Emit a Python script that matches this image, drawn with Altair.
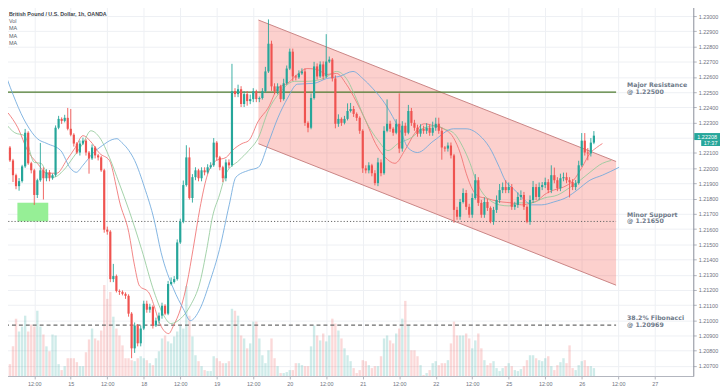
import json
import altair as alt
import pandas as pd

# ---------------- data ----------------
first_open = 1.22181
closes = [
    1.22136, 1.22051, 1.21954, 1.21882, 1.21915, 1.22012, 1.22233, 1.22032, 1.21986, 1.21824,
    1.21921, 1.21986, 1.21934, 1.21973, 1.21934, 1.21954, 1.22266, 1.22324, 1.22311, 1.22331,
    1.22259, 1.22220, 1.22162, 1.22103, 1.22162, 1.22181, 1.22103, 1.22064, 1.22136, 1.22084,
    1.22071, 1.21986, 1.21596, 1.21583, 1.21271, 1.21291, 1.21193, 1.21187, 1.21174, 1.21161,
    1.21044, 1.20816, 1.20966, 1.20849, 1.20946, 1.21109, 1.21070, 1.21089, 1.20966, 1.20998,
    1.21031, 1.21096, 1.21044, 1.21239, 1.21252, 1.21271, 1.21512, 1.21648, 1.21889, 1.22071,
    1.21804, 1.21941, 1.21986, 1.21934, 1.21986, 1.21973, 1.22006, 1.22019, 1.22168, 1.22071,
    1.22006, 1.21934, 1.22038, 1.22019, 1.22506, 1.22487, 1.22519, 1.22422, 1.22487, 1.22441,
    1.22454, 1.22506, 1.22454, 1.22461, 1.22506, 1.22636, 1.22818, 1.22538, 1.22506, 1.22538,
    1.22454, 1.22558, 1.22655, 1.22766, 1.22603, 1.22597, 1.22623, 1.22636, 1.22298, 1.22266,
    1.22461, 1.22669, 1.22603, 1.22682, 1.22603, 1.22701, 1.22714, 1.22590, 1.22292, 1.22324,
    1.22298, 1.22324, 1.22376, 1.22389, 1.22357, 1.22331, 1.22246, 1.21999, 1.21986, 1.22019,
    1.21967, 1.21902, 1.22038, 1.21967, 1.22246, 1.22292, 1.22259, 1.22233, 1.22292, 1.22129,
    1.22279, 1.22233, 1.22376, 1.22298, 1.22266, 1.22227, 1.22259, 1.22246, 1.22266, 1.22233,
    1.22266, 1.22292, 1.22246, 1.22136, 1.22129, 1.22149, 1.22084, 1.21726, 1.21681, 1.21778,
    1.21837, 1.21746, 1.21694, 1.21804, 1.21921, 1.21772, 1.21694, 1.21778, 1.21739, 1.21648,
    1.21726, 1.21791, 1.21856, 1.21876, 1.21856, 1.21876, 1.21746, 1.21759, 1.21811, 1.21824,
    1.21746, 1.21648, 1.21791, 1.21876, 1.21811, 1.21876, 1.21889, 1.21908, 1.21856, 1.21954,
    1.21921, 1.21869, 1.21934, 1.21941, 1.21921, 1.21908, 1.21876, 1.21902, 1.22019, 1.22181,
    1.22103, 1.22097, 1.22168, 1.22214,
]
# wick lengths above / below the body, in pips (0.0001)
upper_wicks = [
    6, 1, 1, 1, 2, 1, 2.5, 1, 1, 1,
    1, 18, 2, 2, 1.5, 1, 1.5, 2, 1, 2,
    6.5, 13, 1, 1, 2, 2, 1, 1, 2, 1,
    1, 1, 1, 2, 1, 8, 1, 1, 1, 1,
    1, 1, 2, 1, 2, 2, 2, 2, 1, 2,
    2, 2, 1, 2, 3, 2, 2, 2, 3, 8,
    6.5, 2, 2, 1, 2, 2, 2, 2, 3, 1,
    1, 1, 2, 2, 18, 2, 3, 2, 2, 2,
    3, 2, 1, 1, 2, 3, 16, 2, 2, 2,
    1, 3, 2, 2, 2, 1, 2, 2, 2, 1,
    3, 3, 2, 2, 2, 18, 2, 1, 2, 3,
    1, 2, 5, 4, 2, 1, 1, 1, 2, 2,
    1, 2, 3, 2, 3, 16, 2, 1, 3, 20,
    3, 2, 4, 2, 2, 2, 3, 2, 3, 2,
    4, 4, 4, 2, 1, 2, 2, 1, 2, 2,
    3, 2, 2, 3, 4, 2, 2, 3, 2, 1,
    2, 3, 4, 3, 4.5, 3, 2, 2, 3, 3,
    2, 1, 3, 4, 2, 3, 2, 3, 2, 6.5,
    5, 2, 3, 3, 3, 2, 2, 2, 3, 5,
    5, 3, 3, 3,
]
lower_wicks = [
    1, 1, 4.5, 2, 3, 1, 1, 1, 2, 6.5,
    2, 1, 14, 2, 2, 1, 1, 1, 2, 1,
    1, 1, 2, 1, 2, 1, 2, 10, 1, 2,
    2, 1, 2, 2, 2, 2, 1, 2, 1, 2,
    2, 6.5, 3, 2, 2, 1, 2, 2, 2, 1,
    2, 2, 1, 1, 1, 1, 1, 1, 1, 1,
    1, 3, 2, 2, 2, 2, 1, 1, 1, 2,
    2, 2.5, 2, 2, 1, 2, 2, 2, 2, 3,
    2, 2, 2, 2, 1, 1, 1, 3, 2, 2,
    2, 1, 1, 1, 3, 2, 1, 1, 2, 3,
    1, 1, 2, 1, 2, 1, 1, 2, 3, 2,
    2, 1, 1, 1, 2, 2, 2, 3, 2, 2,
    2, 1.5, 2, 2, 1, 1, 2, 2, 1, 3,
    2, 2, 1, 2, 2, 2, 2, 2, 2, 2,
    2, 2, 2, 8, 2, 2, 2, 8.5, 2, 2,
    1, 2, 2, 2, 1, 2, 2, 2, 2, 1,
    2, 2, 2, 2, 2, 2, 2, 2, 2, 2,
    2, 1, 2, 2, 2, 2, 2, 2, 2, 2,
    2, 2, 2, 2, 2, 10, 2, 2, 1, 1,
    2, 4.5, 2, 1,
]
volumes = [
    11, 12, 30, 58, 45, 50, 61, 45, 52, 50,
    66, 50, 42, 30, 25, 42, 41, 12, 6, 10,
    18, 18, 18, 14, 10, 10, 24, 37, 48, 38,
    36, 46, 92, 78, 85, 60, 48, 41, 31, 18,
    18, 16, 15, 18, 20, 18, 16, 13, 11, 18,
    25, 38, 41, 35, 33, 40, 45, 51, 48, 91,
    61, 40, 21, 15, 10, 6, 5, 5, 20, 18,
    15, 13, 13, 15, 68, 66, 61, 41, 38, 28,
    33, 55, 55, 38, 21, 13, 26, 38, 18, 10,
    3, 3, 4, 6, 6, 13, 13, 11, 10, 10,
    30, 51, 41, 36, 43, 35, 41, 58, 53, 46,
    38, 28, 21, 15, 8, 3, 6, 16, 15, 11,
    8, 10, 10, 20, 38, 41, 36, 33, 43, 48,
    58, 76, 51, 26, 26, 20, 11, 1, 3, 6,
    13, 15, 11, 13, 13, 16, 33, 55, 41, 41,
    41, 43, 38, 28, 36, 43, 28, 16, 11, 13,
    15, 8, 5, 8, 10, 13, 10, 6, 5, 7,
    10, 16, 21, 21, 18, 16, 15, 18, 20, 10,
    6, 11, 14, 18, 13, 31, 8, 6, 11, 15,
    16, 10, 10, 8,
]

ma_red_bars = [1.4, 4.6, 7.8, 11.0, 14.2, 17.4, 20.6, 23.5, 26.0, 28.3, 31.5, 34.7, 37.2, 37.9, 41.1,
               43.0, 44.6, 47.5, 49.4, 51.0, 52.6, 54.2, 55.8, 58.1, 60.3, 62.2, 64.5, 66.7, 69.9, 73.1,
               75.1, 78.3, 80.5, 83.7, 86.9, 90.1, 93.3, 96.5, 99.7, 103.0, 106.2, 109.4, 112.6, 115.8, 119.0,
               122.2, 125.4, 128.6, 131.8, 135.0, 138.2, 141.4, 144.6, 147.8, 150.1, 152.0, 154.2, 156.5, 158.4, 160.6,
               163.8, 167.0, 170.3, 173.5, 175.7, 177.6, 180.8, 184.0, 187.3, 190.1, 192.7, 194.9, 196.8]
ma_red_vals = [1.22363, 1.22266, 1.22116, 1.22032, 1.21967, 1.21967, 1.22051, 1.22136, 1.22214, 1.22181,
               1.22097, 1.22051, 1.21856, 1.21791, 1.21576, 1.21356, 1.21226, 1.21187, 1.21096, 1.20992,
               1.20933, 1.20913, 1.20966, 1.21076, 1.21252, 1.21466, 1.21740, 1.21941, 1.22051, 1.22071,
               1.22116, 1.22162, 1.22181, 1.22311, 1.22396, 1.22526, 1.22558, 1.22616, 1.22655, 1.22649,
               1.22616, 1.22623, 1.22552, 1.22441, 1.22311, 1.22162, 1.22071, 1.22032, 1.22116, 1.22227,
               1.22292, 1.22279, 1.22259, 1.22201, 1.22097, 1.21967, 1.21856, 1.21811, 1.21804, 1.21791,
               1.21778, 1.21772, 1.21759, 1.21772, 1.21791, 1.21824, 1.21856, 1.21876, 1.21921, 1.22006,
               1.22097, 1.22136, 1.22162]

ma_green_bars = [0.4, 3.6, 6.8, 10.0, 12.2, 14.2, 16.4, 19.6, 22.8, 26.0, 28.6, 31.5, 34.7, 37.9, 41.1,
                 45.3, 49.4, 52.6, 54.9, 58.1, 61.3, 64.5, 66.7, 68.6, 70.9, 73.1, 77.3, 80.5, 83.7, 86.9,
                 91.1, 95.6, 99.7, 105.2, 109.4, 112.6, 115.8, 119.0, 123.1, 126.3, 129.6, 134.0, 138.2, 142.4, 144.6,
                 147.8, 151.0, 153.3, 155.2, 157.4, 159.7, 162.9, 166.1, 169.3, 173.5, 177.6, 182.1, 186.3, 189.5, 192.7,
                 196.8, 199.7]
ma_green_vals = [1.22298, 1.22233, 1.22214, 1.22038, 1.22032, 1.21967, 1.21941, 1.21986, 1.22071, 1.22162,
                 1.22246, 1.22201, 1.22071, 1.21902, 1.21726, 1.21466, 1.21187, 1.21031, 1.20979, 1.21011,
                 1.21096, 1.21252, 1.21466, 1.21681, 1.21824, 1.21967, 1.22051, 1.22116, 1.22201, 1.22376,
                 1.22506, 1.22571, 1.22571, 1.22590, 1.22636, 1.22590, 1.22461, 1.22311, 1.22181, 1.22116,
                 1.22162, 1.22201, 1.22266, 1.22279, 1.22259, 1.22233, 1.22136, 1.22032, 1.21921, 1.21837,
                 1.21791, 1.21759, 1.21752, 1.21772, 1.21772, 1.21804, 1.21824, 1.21876, 1.21921, 1.21973,
                 1.22032, 1.22051]

ma_blue_bars = [0.4, 7.4, 11.0, 14.2, 18.7, 21.9, 23.8, 26.0, 29.2, 32.4, 35.6, 37.2, 38.8, 41.1, 43.0,
                46.2, 49.4, 51.7, 55.8, 59.0, 61.3, 64.5, 67.7, 70.9, 74.1, 76.3, 80.5, 83.7, 86.9, 90.1,
                93.3, 96.5, 102.0, 106.2, 110.3, 114.8, 118.0, 121.2, 125.4, 128.6, 130.8, 132.8, 136.0, 141.4, 147.8,
                152.0, 156.5, 159.7, 162.9, 164.8, 168.0, 171.2, 173.5, 176.7, 180.8, 185.3, 188.5, 192.7, 196.8, 202.3]
ma_blue_vals = [1.22623, 1.22292, 1.22194, 1.22162, 1.22116, 1.21999, 1.21973, 1.22019, 1.22097, 1.22149,
                1.22188, 1.22194, 1.22168, 1.22116, 1.22051, 1.21876, 1.21661, 1.21446, 1.21206, 1.21076,
                1.20998, 1.21076, 1.21252, 1.21466, 1.21759, 1.21941, 1.21986, 1.22006, 1.22162, 1.22331,
                1.22461, 1.22552, 1.22558, 1.22590, 1.22603, 1.22636, 1.22590, 1.22526, 1.22422, 1.22311,
                1.22227, 1.22136, 1.22103, 1.22181, 1.22259, 1.22259, 1.22214, 1.22136, 1.22006, 1.21921,
                1.21856, 1.21791, 1.21759, 1.21759, 1.21778, 1.21811, 1.21856, 1.21921, 1.21954, 1.22006]

# descending channel (bar index, upper price, lower price) at both ends
channel_bars = [83.7, 201.3]
channel_upper = [1.22974, 1.22044]
channel_lower = [1.22161, 1.21231]

levels = [1.22500, 1.21650, 1.20969]
level_names = ["Major Resistance\n@ 1.22500", "Minor Support\n@ 1.21650", "38.2% Fibonacci\n@ 1.20969"]
level_end_bar = 201.3

box_bars = [4.45, 14.6]
box_prices = [1.21650, 1.21773]

last_price_text = "1.22208"
last_price = 1.22208
countdown_text = "17:37"

x_label_bars = [10, 22, 34, 46, 58, 70, 82, 94, 106, 118, 130, 142, 154, 166, 178, 190, 202, 214]
x_labels = ["12:00", "15", "12:00", "18", "12:00", "19", "12:00", "20", "12:00",
            "21", "12:00", "22", "12:00", "25", "12:00", "26", "12:00", "27"]
price_ticks = [1.207, 1.208, 1.209, 1.210, 1.211, 1.212, 1.213, 1.214, 1.215, 1.216, 1.217, 1.218,
               1.219, 1.220, 1.221, 1.222, 1.223, 1.224, 1.225, 1.226, 1.227, 1.228, 1.229, 1.230]

# ---------------- tables ----------------
opens = [first_open] + closes[:-1]
rows = []
for i, (o, c, u, d, v) in enumerate(zip(opens, closes, upper_wicks, lower_wicks, volumes)):
    rows.append(dict(bar=i + 1, open=o, close=c,
                     high=max(o, c) + u * 1e-4, low=min(o, c) - d * 1e-4,
                     vol=v, dir="up" if c >= o else "down"))
df = pd.DataFrame(rows)

X_DOMAIN = [0.385, 225.06]
Y_DOMAIN = [1.20634, 1.23091]

UP, DOWN = "#26a69a", "#ef5350"
AXIS_COL = "#b2b5be"
GRID_COL = "#eef0f4"
LABEL_COL = "#6f7380"
FONT = "Liberation Sans"

xscale = alt.Scale(domain=X_DOMAIN, nice=False, zero=False)
yscale = alt.Scale(domain=Y_DOMAIN, nice=False, zero=False)

label_expr = json.dumps(x_labels).replace('"', "'") + "[round((datum.value - 10) / 12)]"
xaxis = alt.Axis(values=x_label_bars, labelExpr=label_expr, title=None, grid=True,
                 gridColor=GRID_COL, domainColor=AXIS_COL, tickColor=AXIS_COL, tickSize=3,
                 labelFontSize=5.5, labelFont=FONT, labelColor=LABEL_COL, labelPadding=3,
                 zindex=0)
# the 1.22200 label sits under the last-price tag in the reference
y_label_expr = f"abs(datum.value - {last_price}) < 0.0002 ? '' : format(datum.value, '.5f')"
yaxis = alt.Axis(orient="right", values=price_ticks, labelExpr=y_label_expr, title=None, grid=True,
                 gridColor=GRID_COL, domainColor="#8a8e99", tickColor=AXIS_COL, tickSize=3,
                 labelFontSize=5.5, labelFont=FONT, labelColor=LABEL_COL, labelPadding=2,
                 zindex=0)

def X(field="bar"):
    return alt.X(f"{field}:Q", scale=xscale, axis=xaxis)

def Y(field):
    return alt.Y(f"{field}:Q", scale=yscale, axis=yaxis)

dir_color = alt.Color("dir:N", scale=alt.Scale(domain=["up", "down"], range=[UP, DOWN]), legend=None)

# volume (own scale)
vol_layer = alt.Chart(df).mark_bar(size=2.4, opacity=0.22).encode(
    x=X(), y=alt.Y("vol:Q", scale=alt.Scale(domain=[0, 378], nice=False), axis=None),
    color=dir_color)

# channel
ch_df = pd.DataFrame({"bar": channel_bars, "upper": channel_upper, "lower": channel_lower})
channel = alt.Chart(ch_df).mark_area(color="#f44336", opacity=0.25).encode(
    x=X(), y=Y("upper"), y2="lower:Q")
edge_df = pd.DataFrame({
    "b1": [channel_bars[0], channel_bars[0]], "b2": [channel_bars[1], channel_bars[1]],
    "p1": [channel_upper[0], channel_lower[0]], "p2": [channel_upper[1], channel_lower[1]]})
edges = alt.Chart(edge_df).mark_rule(color="#c98585", strokeWidth=1).encode(
    x=X("b1"), x2="b2:Q", y=Y("p1"), y2="p2:Q")

# green box
box_df = pd.DataFrame({"b1": [box_bars[0]], "b2": [box_bars[1]], "p1": [box_prices[0]], "p2": [box_prices[1]]})
box = alt.Chart(box_df).mark_rect(color="#90ee90", opacity=0.95).encode(
    x=X("b1"), x2="b2:Q", y=Y("p1"), y2="p2:Q")

# horizontal levels
lv_df = pd.DataFrame({"b1": [X_DOMAIN[0]] * 3, "b2": [level_end_bar] * 3, "price": levels,
                      "kind": ["major", "minor", "fib"], "label": level_names})
major = alt.Chart(lv_df).transform_filter("datum.kind == 'major'").mark_rule(
    color="#4d7a2e", strokeWidth=1.2).encode(x=X("b1"), x2="b2:Q", y=Y("price"))
minor = alt.Chart(lv_df).transform_filter("datum.kind == 'minor'").mark_rule(
    color="#666666", strokeWidth=1, strokeDash=[1.2, 2]).encode(x=X("b1"), x2="b2:Q", y=Y("price"))
fib = alt.Chart(lv_df).transform_filter("datum.kind == 'fib'").mark_rule(
    color="#6b6b6b", strokeWidth=1.3, strokeDash=[4, 3]).encode(x=X("b1"), x2="b2:Q", y=Y("price"))
level_text = alt.Chart(lv_df).mark_text(
    align="left", baseline="middle", dy=-7, lineBreak="\n", lineHeight=7,
    font="DejaVu Sans", fontWeight="bold", fontSize=6.3, color="#6e7a89").encode(
    x=alt.value(634), y=Y("price"), text="label:N")

# moving averages
def ma_layer(bars, vals, color):
    d = pd.DataFrame({"bar": bars, "val": vals})
    return alt.Chart(d).mark_line(color=color, strokeWidth=1, opacity=0.85,
                                  interpolate="monotone").encode(x=X(), y=Y("val"))

ma_red = ma_layer(ma_red_bars, ma_red_vals, "#f07070")
ma_green = ma_layer(ma_green_bars, ma_green_vals, "#93c99a")
ma_blue = ma_layer(ma_blue_bars, ma_blue_vals, "#6ea8dd")

# candles
wicks = alt.Chart(df).mark_rule(strokeWidth=0.9).encode(x=X(), y=Y("low"), y2="high:Q", color=dir_color)
bodies = alt.Chart(df).mark_bar(size=2.2).encode(x=X(), y=Y("open"), y2="close:Q", color=dir_color)

# last price tag
tag_df = pd.DataFrame({"p1": [last_price + 0.00023, last_price - 0.00023],
                       "p2": [last_price - 0.00023, last_price - 0.00062],
                       "mid": [last_price, last_price - 0.000425],
                       "txt": [last_price_text, countdown_text],
                       "x1": [702, 709], "x2": [728, 728], "xt": [715, 718.5]})
tag_rect = alt.Chart(tag_df).mark_rect(color=UP).encode(
    x=alt.X("x1:Q", scale=None), x2="x2:Q", y=Y("p1"), y2="p2:Q")
tag_text = alt.Chart(tag_df).mark_text(color="white", fontSize=5.5, font=FONT, align="center",
                                       baseline="middle").encode(
    x=alt.X("xt:Q", scale=None), y=Y("mid"), text="txt:N")

# header texts
def header(txt, y, bold=False, color="#5b5f6b", size=5.5):
    return alt.Chart(pd.DataFrame({"t": [txt]})).mark_text(
        align="left", baseline="middle", font=FONT, fontSize=size,
        fontWeight="bold" if bold else "normal", color=color).encode(
        x=alt.value(9), y=alt.value(y), text="t:N")

headers = [header("British Pound / U.S. Dollar, 1h, OANDA", 11.5, True, "#3b3f4a", 5.4),
           header("Vol", 19), header("MA", 26.5), header("MA", 34), header("MA", 41.5)]

price_layers = alt.layer(channel, edges, box, major, minor, fib, ma_red, ma_green, ma_blue,
                         wicks, bodies, level_text, tag_rect, tag_text, *headers)

chart = alt.layer(vol_layer, price_layers).resolve_scale(y="independent").properties(
    width=701, height=378,
    autosize=alt.AutoSizeParams(type="none"),
    padding={"left": -8, "top": -8, "right": 27, "bottom": 13},
).configure_view(stroke=None)

chart.save("out.html", embed_options={"renderer": "svg", "actions": False})
